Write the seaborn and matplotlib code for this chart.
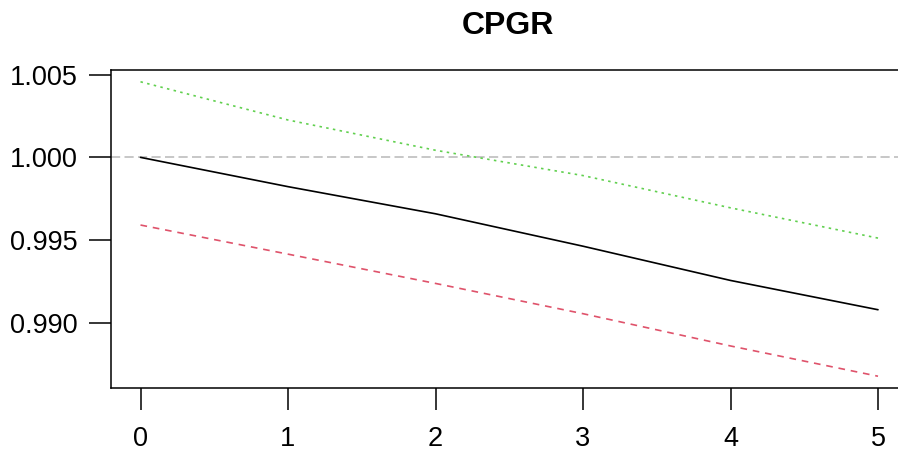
import numpy as np
import pandas as pd
import seaborn as sns
import matplotlib.pyplot as plt

# impulse response of CPGR with lower / upper bands
horizon = [0, 1, 2, 3, 4, 5]
irf = [1.0000, 0.99823, 0.99659, 0.99463, 0.99256, 0.99079]
upper = [1.00457, 1.00226, 1.00043, 0.99890, 0.99695, 0.99512]
lower = [0.99591, 0.99415, 0.99238, 0.99055, 0.98860, 0.98677]
y_ticks = [0.990, 0.995, 1.000, 1.005]
title = "CPGR"

sns.set_style("ticks")
plt.rcParams["font.family"] = ["Liberation Sans", "DejaVu Sans"]

df = pd.DataFrame({"h": horizon, "irf": irf, "upper": upper, "lower": lower})

fig = plt.figure(figsize=(8.98, 4.5), dpi=100)
ax = fig.add_axes([111 / 898, 62 / 450, (907.5 - 111) / 898, 318 / 450])

# reference line at 1
ax.axhline(1.0, color="#BEBEBE", lw=1.2, ls=(0, (5.5, 2.6)), zorder=1)

sns.lineplot(data=df, x="h", y="irf", ax=ax, color="black", lw=1.2)
sns.lineplot(data=df, x="h", y="upper", ax=ax, color="#61D04F", lw=1.2,
             linestyle=(0, (1.5, 2.6)))
sns.lineplot(data=df, x="h", y="lower", ax=ax, color="#DF536B", lw=1.2,
             linestyle=(0, (4, 3.5)))

# R-style limits: data range padded by 4%
lo, hi = min(lower), max(upper)
pad = 0.04 * (hi - lo)
ax.set_ylim(lo - pad, hi + pad)
ax.set_xlim(-0.2, 5.2)

ax.set_xticks(horizon)
ax.set_yticks(y_ticks)
ax.set_yticklabels([f"{v:.3f}" for v in y_ticks])
ax.tick_params(axis="both", direction="out", length=16, width=1.1,
               color="black", labelsize=19.5, labelcolor="black",
               bottom=True, left=True)
ax.tick_params(axis="x", pad=11)
ax.tick_params(axis="y", pad=8)
ax.set_xlabel("")
ax.set_ylabel("")

for s in ax.spines.values():
    s.set_visible(True)
    s.set_color("black")
    s.set_linewidth(1.1)

fig.text(508 / 898, 1 - 26 / 450, title, ha="center", va="center",
         fontsize=23, fontweight="bold", color="black")

fig.savefig("out.png", dpi=100)
